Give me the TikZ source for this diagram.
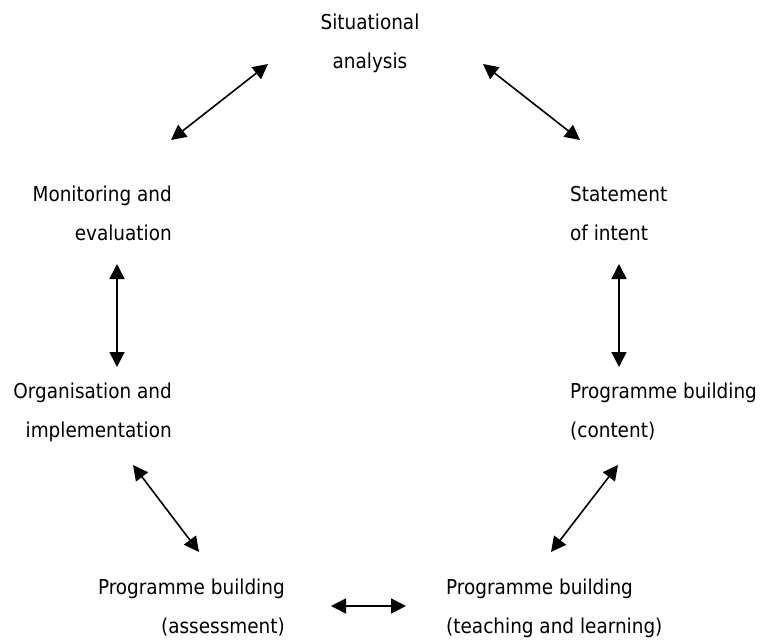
\documentclass[tikz,border=0pt]{standalone}
\usepackage{fontspec}
\setmainfont{DejaVu Sans Condensed}
\usetikzlibrary{arrows.meta}
\begin{document}
\begin{tikzpicture}[x=1pt,y=-1pt,
  stage/.style={inner sep=0pt, font=\fontsize{20.5}{38.5}\selectfont},
  link/.style={line width=1.6pt,
    {Triangle[length=15pt,width=15pt]}-{Triangle[length=15pt,width=15pt]}}]
\useasboundingbox (0,0) rectangle (762,640);

% stages of the curriculum cycle (base = baseline of the last line)
\node[stage, anchor=base, align=center] (sit) at (370,68) {Situational\\analysis};
\node[stage, anchor=base west, align=left] (stm) at (570,240) {Statement\\of intent};
\node[stage, anchor=base west, align=left] (con) at (570,437) {Programme building\\(content)};
\node[stage, anchor=base west, align=left] (tl) at (446,633) {Programme building\\(teaching and learning)};
\node[stage, anchor=base east, align=right] (ass) at (285,633) {Programme building\\(assessment)};
\node[stage, anchor=base east, align=right] (org) at (172,437) {Organisation and\\implementation};
\node[stage, anchor=base east, align=right] (mon) at (172,240) {Monitoring and\\evaluation};

% arrow end points between neighbouring stages
\coordinate (sit-l) at (268,64);
\coordinate (mon-t) at (171,140);
\coordinate (sit-r) at (483,64);
\coordinate (stm-t) at (580,140);
\coordinate (stm-b) at (619,264);
\coordinate (con-t) at (619,367);
\coordinate (con-b) at (618,465);
\coordinate (tl-t) at (551,552);
\coordinate (tl-l) at (406,606);
\coordinate (ass-r) at (331,606);
\coordinate (ass-t) at (199,552);
\coordinate (org-b) at (133,465);
\coordinate (org-t) at (117,367);
\coordinate (mon-b) at (117,264);

\draw[link] (mon-t) -- (sit-l);
\draw[link] (sit-r) -- (stm-t);
\draw[link] (stm-b) -- (con-t);
\draw[link] (con-b) -- (tl-t);
\draw[link] (tl-l) -- (ass-r);
\draw[link] (ass-t) -- (org-b);
\draw[link] (org-t) -- (mon-b);
\end{tikzpicture}
\end{document}
